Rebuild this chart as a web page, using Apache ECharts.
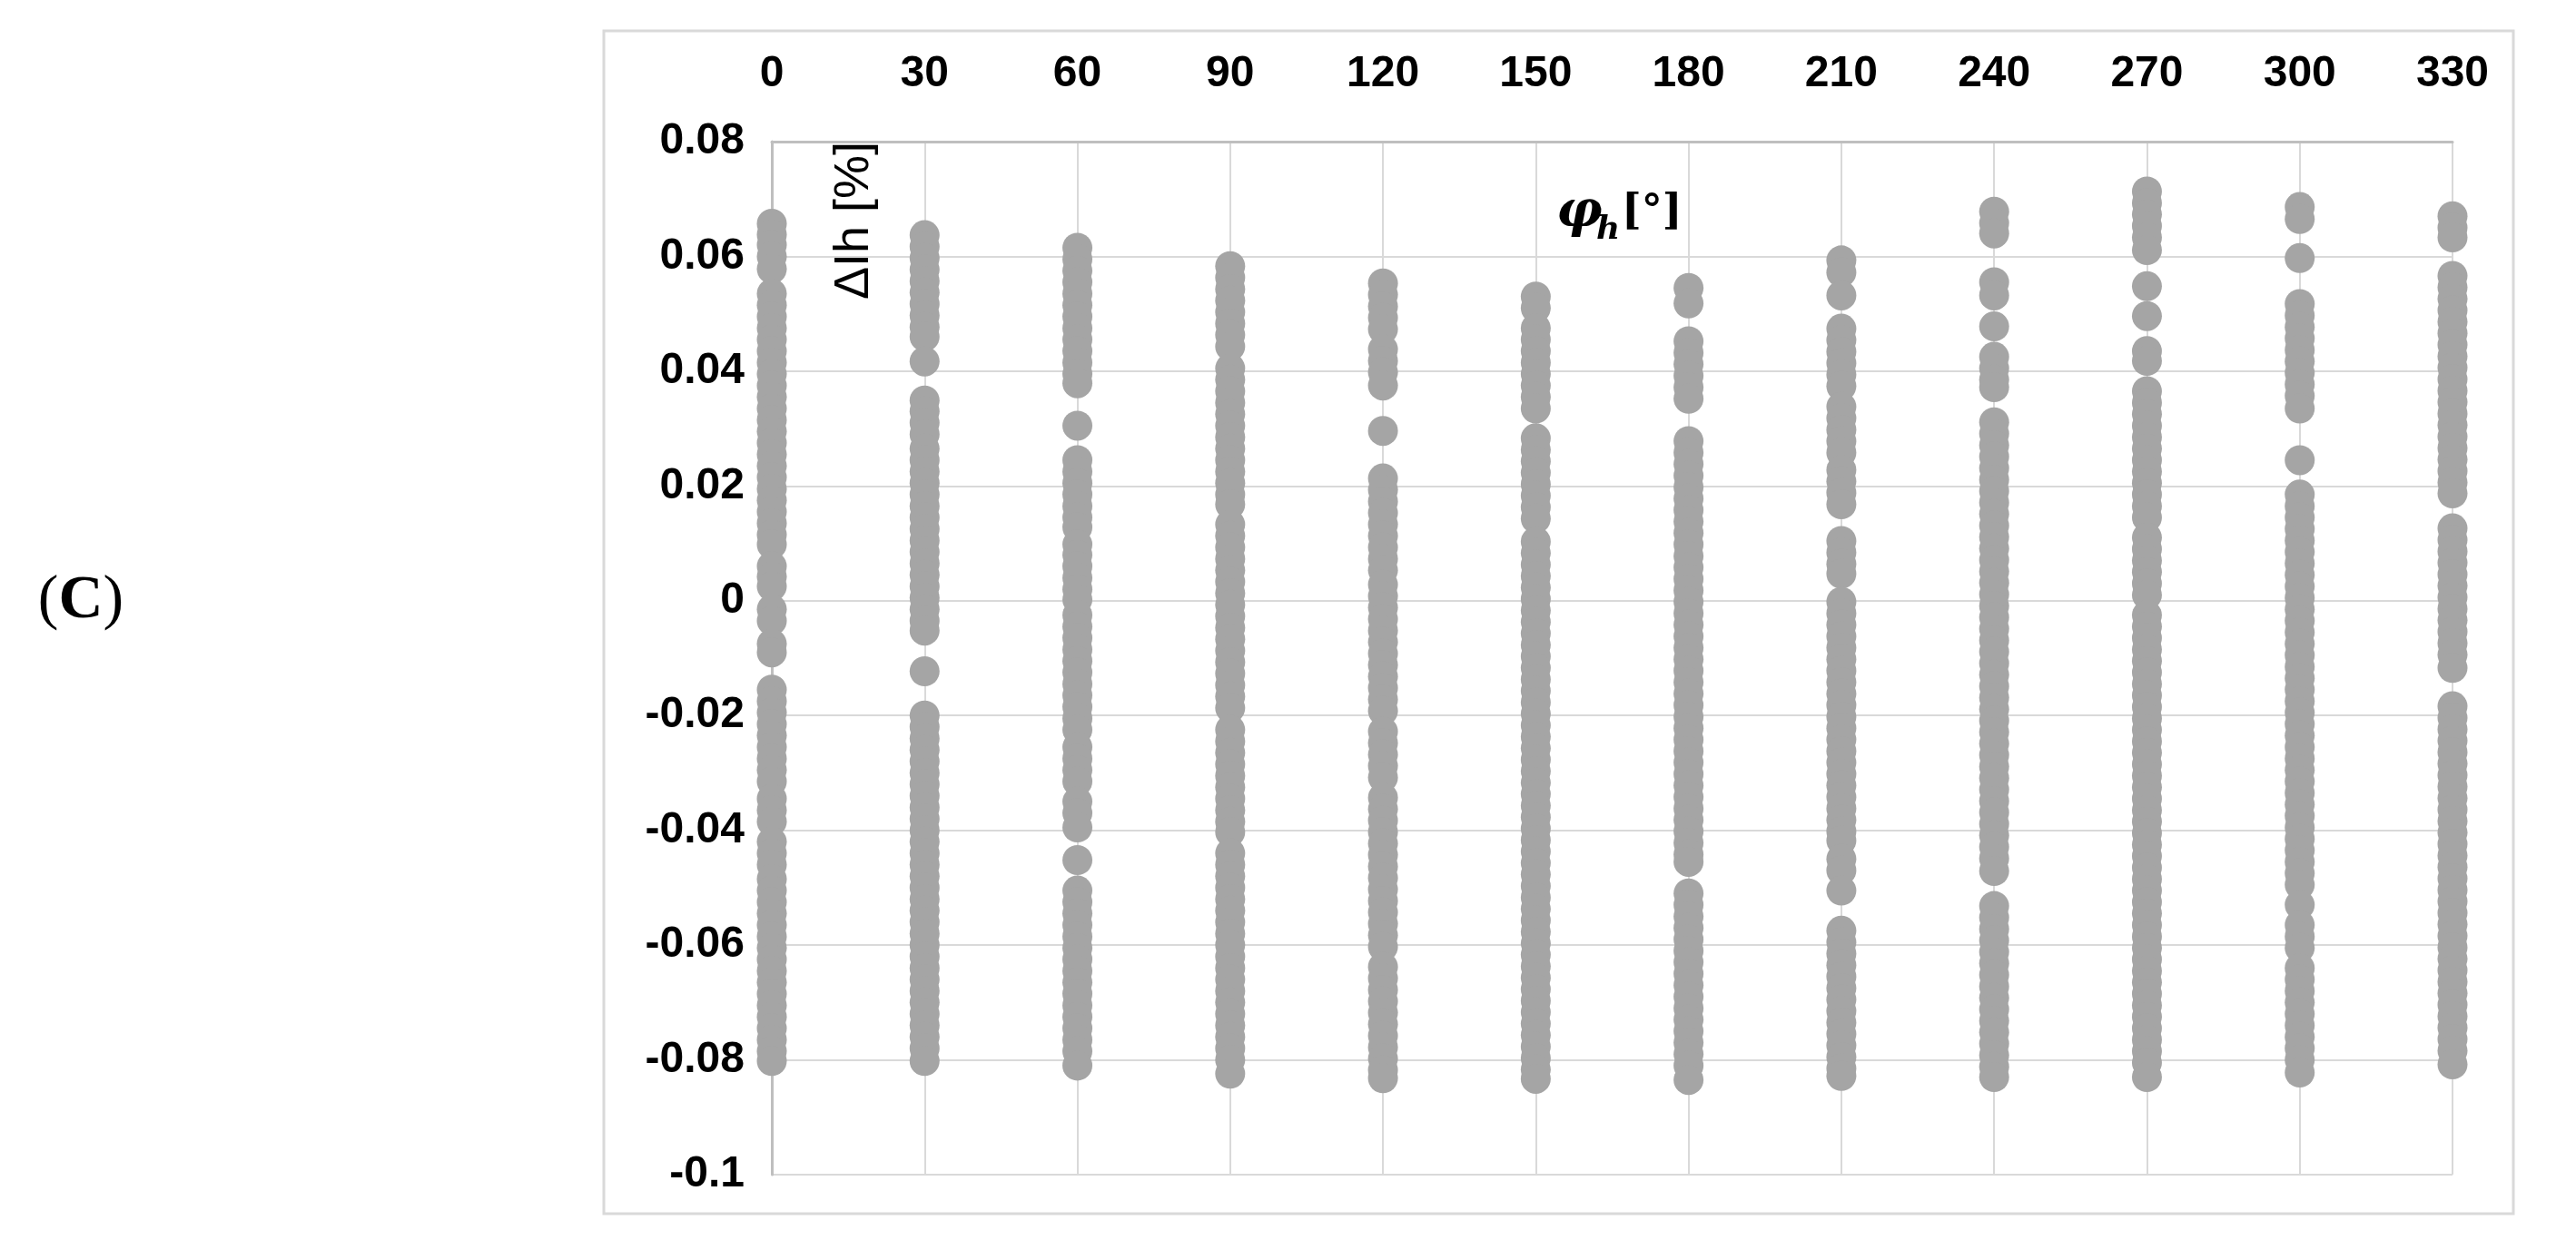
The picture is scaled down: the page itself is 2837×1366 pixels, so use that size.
<!DOCTYPE html>
<html>
<head>
<meta charset="utf-8">
<script src="https://cdn.jsdelivr.net/npm/echarts@6/dist/echarts.min.js"></script>
<style>
  html, body { margin: 0; padding: 0; background: #ffffff; }
  #chart { width: 2837px; height: 1366px; }
</style>
</head>
<body>
<div id="chart"></div>
<script>
// Angle categories (phi_h, degrees) and y tick settings
const angles = [0, 30, 60, 90, 120, 150, 180, 210, 240, 270, 300, 330];
const yMin = -0.1, yMax = 0.08, yStep = 0.02;

// Values of ΔIh [%]
const phi0 = [0.0657, 0.0638, 0.062, 0.06, 0.0578, 0.0535, 0.0515, 0.0495, 0.0475, 0.0455, 0.0435, 0.0415, 0.0395, 0.0375, 0.0355, 0.0335, 0.0315, 0.0295, 0.0275, 0.0255, 0.0235, 0.0215, 0.0195, 0.0175, 0.0155, 0.0135, 0.0115, 0.0098, 0.006, 0.0042, 0.0025, -0.0015, -0.0035, -0.0075, -0.009, -0.0155, -0.0175, -0.0195, -0.0215, -0.0235, -0.0255, -0.0275, -0.0295, -0.0315, -0.0345, -0.0365, -0.0385, -0.042, -0.044, -0.046, -0.0485, -0.0505, -0.0525, -0.0545, -0.0565, -0.0585, -0.0605, -0.0625, -0.0645, -0.0665, -0.0685, -0.0705, -0.0725, -0.0745, -0.0765, -0.0785, -0.0802];
const phi30 = [0.0637, 0.0617, 0.0597, 0.0577, 0.0557, 0.0537, 0.0517, 0.0497, 0.0477, 0.046, 0.0417, 0.0349, 0.033, 0.031, 0.029, 0.0265, 0.0245, 0.0225, 0.0205, 0.0185, 0.0165, 0.0145, 0.0125, 0.0105, 0.0085, 0.0065, 0.0045, 0.0025, 0.0005, -0.0015, -0.0035, -0.0052, -0.0123, -0.020, -0.022, -0.024, -0.026, -0.028, -0.030, -0.032, -0.034, -0.036, -0.038, -0.040, -0.042, -0.044, -0.046, -0.048, -0.050, -0.052, -0.054, -0.056, -0.058, -0.060, -0.062, -0.064, -0.066, -0.068, -0.070, -0.072, -0.074, -0.076, -0.078, -0.0802];
const phi60 = [0.0615, 0.0595, 0.0575, 0.0555, 0.0535, 0.0515, 0.0495, 0.0475, 0.0455, 0.0435, 0.0415, 0.0395, 0.0379, 0.0305, 0.0245, 0.0225, 0.0205, 0.0185, 0.0165, 0.0145, 0.0128, 0.0098, 0.008, 0.006, 0.004, 0.002, 0.0002, -0.0025, -0.0045, -0.0065, -0.0085, -0.0105, -0.0125, -0.0145, -0.0165, -0.0185, -0.0205, -0.0225, -0.0255, -0.0275, -0.0295, -0.0315, -0.035, -0.037, -0.0395, -0.0452, -0.0505, -0.0525, -0.0545, -0.0565, -0.0585, -0.0605, -0.0625, -0.0645, -0.0665, -0.0685, -0.0705, -0.0725, -0.0745, -0.0765, -0.0785, -0.081];
const phi90 = [0.0583, 0.0563, 0.0543, 0.0523, 0.0503, 0.0483, 0.0463, 0.0443, 0.0405, 0.0385, 0.0365, 0.0345, 0.0325, 0.0305, 0.0285, 0.0265, 0.0245, 0.0225, 0.0205, 0.0185, 0.0168, 0.0133, 0.0113, 0.0093, 0.0073, 0.0053, 0.0033, 0.0013, -0.0007, -0.0027, -0.0047, -0.0067, -0.0087, -0.0107, -0.0127, -0.0147, -0.0167, -0.0187, -0.0225, -0.0245, -0.0265, -0.0285, -0.0305, -0.0325, -0.0345, -0.0365, -0.0385, -0.0403, -0.044, -0.046, -0.048, -0.050, -0.052, -0.054, -0.056, -0.058, -0.060, -0.062, -0.064, -0.066, -0.068, -0.070, -0.072, -0.074, -0.076, -0.078, -0.080, -0.0824];
const phi120 = [0.0553, 0.0533, 0.0513, 0.0493, 0.0473, 0.0438, 0.0418, 0.0398, 0.0375, 0.0296, 0.0213, 0.0193, 0.0173, 0.0153, 0.0133, 0.0113, 0.0093, 0.0073, 0.0053, 0.0028, 0.0008, -0.0012, -0.0032, -0.0052, -0.0072, -0.0092, -0.0112, -0.0132, -0.0152, -0.0172, -0.0192, -0.0228, -0.0248, -0.0268, -0.0288, -0.0308, -0.0343, -0.0363, -0.0383, -0.0403, -0.0423, -0.0443, -0.0463, -0.0483, -0.0503, -0.0523, -0.0543, -0.0563, -0.0583, -0.0603, -0.0638, -0.0658, -0.0678, -0.0698, -0.0718, -0.0738, -0.0758, -0.0778, -0.0798, -0.0818, -0.0832];
const phi150 = [0.053, 0.051, 0.0475, 0.0455, 0.0435, 0.0415, 0.0395, 0.0375, 0.0355, 0.0335, 0.0283, 0.0263, 0.0243, 0.0223, 0.0203, 0.0183, 0.0163, 0.0143, 0.0103, 0.0083, 0.0063, 0.0043, 0.0023, 0.0003, -0.0017, -0.0037, -0.0057, -0.0077, -0.0097, -0.0117, -0.0137, -0.0157, -0.0177, -0.0197, -0.0217, -0.0237, -0.0257, -0.0277, -0.0297, -0.0317, -0.0337, -0.0357, -0.0377, -0.0397, -0.0417, -0.0437, -0.0457, -0.0477, -0.0497, -0.0517, -0.0537, -0.0557, -0.0577, -0.0597, -0.0617, -0.0637, -0.0657, -0.0677, -0.0697, -0.0717, -0.0737, -0.0757, -0.0777, -0.0797, -0.0817, -0.0833];
const phi180 = [0.0545, 0.0518, 0.0452, 0.0432, 0.0412, 0.0392, 0.0372, 0.0352, 0.0278, 0.0258, 0.0238, 0.0218, 0.0198, 0.0178, 0.0158, 0.0138, 0.0118, 0.0098, 0.0078, 0.0058, 0.0038, 0.0018, -0.0002, -0.0022, -0.0042, -0.0062, -0.0082, -0.0102, -0.0122, -0.0142, -0.0162, -0.0182, -0.0202, -0.0222, -0.0242, -0.0262, -0.0282, -0.0302, -0.0322, -0.0342, -0.0362, -0.0382, -0.0402, -0.0422, -0.0442, -0.0455, -0.051, -0.053, -0.055, -0.057, -0.059, -0.061, -0.063, -0.065, -0.067, -0.069, -0.071, -0.073, -0.075, -0.077, -0.079, -0.081, -0.0835];
const phi210 = [0.0593, 0.0572, 0.0532, 0.0474, 0.0454, 0.0434, 0.0414, 0.0394, 0.0374, 0.0338, 0.0318, 0.0298, 0.0278, 0.0258, 0.0228, 0.0208, 0.0188, 0.0168, 0.0104, 0.0084, 0.0064, 0.0047, -0.0002, -0.0022, -0.0042, -0.0062, -0.0082, -0.0102, -0.0122, -0.0142, -0.0162, -0.0182, -0.0202, -0.0222, -0.0242, -0.0262, -0.0282, -0.0302, -0.0322, -0.0342, -0.0362, -0.0382, -0.0402, -0.0418, -0.045, -0.047, -0.0505, -0.0575, -0.0595, -0.0615, -0.0635, -0.0655, -0.0675, -0.0695, -0.0715, -0.0735, -0.0755, -0.0775, -0.0795, -0.0815, -0.0828];
const phi240 = [0.0678, 0.0658, 0.064, 0.0555, 0.0532, 0.0478, 0.0425, 0.0405, 0.0385, 0.0372, 0.0311, 0.0291, 0.0271, 0.0251, 0.0231, 0.0211, 0.0191, 0.0171, 0.0151, 0.0131, 0.0111, 0.0091, 0.0071, 0.0051, 0.0031, 0.0011, -0.0009, -0.0029, -0.0049, -0.0069, -0.0089, -0.0109, -0.0129, -0.0149, -0.0169, -0.0189, -0.0209, -0.0229, -0.0249, -0.0269, -0.0289, -0.0309, -0.0329, -0.0349, -0.0369, -0.0389, -0.0409, -0.0429, -0.0449, -0.0471, -0.0532, -0.0552, -0.0572, -0.0592, -0.0612, -0.0632, -0.0652, -0.0672, -0.0692, -0.0712, -0.0732, -0.0752, -0.0772, -0.0792, -0.0812, -0.083];
const phi270 = [0.0713, 0.0693, 0.0673, 0.0653, 0.0633, 0.0611, 0.0548, 0.0496, 0.0435, 0.0418, 0.0365, 0.0345, 0.0325, 0.0305, 0.0285, 0.0265, 0.0245, 0.0225, 0.0205, 0.0185, 0.0165, 0.0145, 0.011, 0.009, 0.007, 0.005, 0.003, 0.001, -0.0025, -0.0045, -0.0065, -0.0085, -0.0105, -0.0125, -0.0145, -0.0165, -0.0185, -0.0205, -0.0225, -0.0245, -0.0265, -0.0285, -0.0305, -0.0325, -0.0345, -0.0365, -0.0385, -0.0405, -0.0425, -0.0445, -0.0465, -0.0485, -0.0505, -0.0525, -0.0545, -0.0565, -0.0585, -0.0605, -0.0625, -0.0645, -0.0665, -0.0685, -0.0705, -0.0725, -0.0745, -0.0765, -0.0785, -0.0805, -0.083];
const phi300 = [0.0686, 0.0665, 0.0597, 0.0517, 0.0497, 0.0477, 0.0457, 0.0437, 0.0417, 0.0397, 0.0377, 0.0357, 0.0335, 0.0245, 0.0185, 0.0165, 0.0145, 0.0125, 0.0105, 0.0085, 0.0065, 0.0045, 0.0025, 0.0005, -0.0015, -0.0035, -0.0055, -0.0075, -0.0095, -0.0115, -0.0135, -0.0155, -0.0175, -0.0195, -0.0215, -0.0235, -0.0255, -0.0275, -0.0295, -0.0315, -0.0335, -0.0355, -0.0375, -0.0395, -0.0415, -0.0435, -0.0455, -0.0475, -0.0495, -0.053, -0.0565, -0.0585, -0.0605, -0.064, -0.066, -0.068, -0.070, -0.072, -0.074, -0.076, -0.078, -0.080, -0.0822];
const phi330 = [0.067, 0.065, 0.0633, 0.0566, 0.0546, 0.0526, 0.0506, 0.0486, 0.0466, 0.0446, 0.0426, 0.0406, 0.0386, 0.0366, 0.0346, 0.0326, 0.0306, 0.0286, 0.0266, 0.0246, 0.0226, 0.0206, 0.0187, 0.0126, 0.0106, 0.0086, 0.0066, 0.0046, 0.0026, 0.0006, -0.0014, -0.0034, -0.0054, -0.0074, -0.0094, -0.0117, -0.0184, -0.0204, -0.0224, -0.0244, -0.0264, -0.0284, -0.0304, -0.0324, -0.0344, -0.0364, -0.0384, -0.0404, -0.0424, -0.0444, -0.0464, -0.0484, -0.0504, -0.0524, -0.0544, -0.0564, -0.0584, -0.0604, -0.0624, -0.0644, -0.0664, -0.0684, -0.0704, -0.0724, -0.0744, -0.0764, -0.0784, -0.0808];

const columns = [phi0, phi30, phi60, phi90, phi120, phi150, phi180, phi210, phi240, phi270, phi300, phi330];

const series = columns.map(function (vals, i) {
  return {
    type: 'scatter',
    name: String(angles[i]),
    symbol: 'circle',
    symbolSize: 33,
    itemStyle: { color: '#a5a5a5', opacity: 1 },
    emphasis: { disabled: true },
    silent: true,
    data: vals.map(function (v) { return [angles[i], v]; })
  };
});

const chart = echarts.init(document.getElementById('chart'), null, { renderer: 'canvas' });
const labelFont = "'Liberation Sans', Arial, sans-serif";
const serif = "'DejaVu Serif', 'Liberation Serif', serif";

chart.setOption({
  backgroundColor: '#ffffff',
  animation: false,
  grid: { left: 850, right: 136, top: 156, bottom: 72, containLabel: false },
  xAxis: {
    type: 'value',
    position: 'top',
    min: 0, max: 330, interval: 30,
    axisLine: { show: true, onZero: false, lineStyle: { color: '#bfbfbf', width: 3 } },
    axisTick: { show: false },
    splitLine: { show: true, lineStyle: { color: '#d9d9d9', width: 2 } },
    axisLabel: { margin: 50, color: '#000000', fontSize: 48, fontWeight: 'bold', fontFamily: labelFont }
  },
  yAxis: {
    type: 'value',
    min: yMin, max: yMax, interval: yStep,
    axisLine: { show: true, onZero: false, lineStyle: { color: '#bfbfbf', width: 3 } },
    axisTick: { show: false },
    splitLine: { show: true, lineStyle: { color: '#d9d9d9', width: 2 } },
    axisLabel: {
      margin: 30, color: '#000000', fontSize: 48, fontWeight: 'bold', fontFamily: labelFont,
      formatter: function (v) { return String(parseFloat(v.toFixed(2))); }
    }
  },
  graphic: [
    { type: 'rect', silent: true, z: -10,
      shape: { x: 665, y: 34, width: 2103, height: 1303 },
      style: { fill: 'none', stroke: '#d9d9d9', lineWidth: 3 } },
    { type: 'text', silent: true, x: 89, y: 662,
      style: { text: '{p|(}{c|C}{p|)}', align: 'center', verticalAlign: 'middle',
        rich: {
          p: { fontFamily: "'Liberation Serif', 'DejaVu Serif', serif", fontSize: 68, fill: '#000' },
          c: { fontFamily: "'Liberation Serif', 'DejaVu Serif', serif", fontSize: 68, fontWeight: 'bold', fill: '#000' }
        } } },
    { type: 'text', silent: true, x: 941, y: 243, rotation: Math.PI / 2,
      style: { text: 'ΔIh [%]', align: 'center', verticalAlign: 'middle',
        fontSize: 54, fontWeight: 'normal', fontFamily: labelFont, fill: '#000' } },
    { type: 'text', silent: true, x: 1714, y: 262,
      style: { text: 'φ', align: 'left', verticalAlign: 'bottom',
        fontSize: 56, fontStyle: 'italic', fontWeight: 'bold', fontFamily: serif, fill: '#000' } },
    { type: 'text', silent: true, x: 1758, y: 272,
      style: { text: 'h', align: 'left', verticalAlign: 'bottom',
        fontSize: 36, fontStyle: 'italic', fontWeight: 'bold', fontFamily: serif, fill: '#000' } },
    { type: 'text', silent: true, x: 1786, y: 258,
      style: { text: '[°]', align: 'left', verticalAlign: 'bottom',
        fontSize: 46, fontStyle: 'normal', fontWeight: 'bold', fontFamily: serif, fill: '#000' } }
  ],
  series: series
});
</script>
</body>
</html>
